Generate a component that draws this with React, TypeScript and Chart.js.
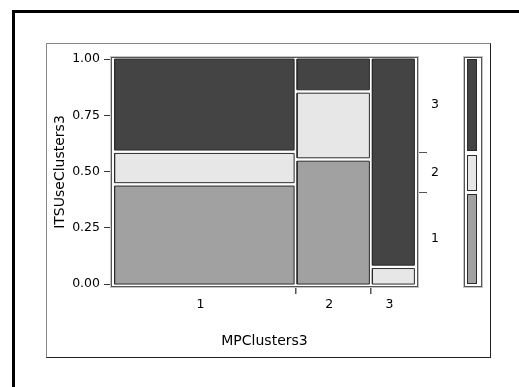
import React, { useEffect, useRef } from 'react';
import { Chart, registerables } from 'chart.js';

Chart.register(...registerables);

// ---- data ----
const xCategories = ['1', '2', '3']; // MPClusters3
const yCategories = ['1', '2', '3']; // ITSUseClusters3
const columnShares = [0.611, 0.246, 0.143];
const level1Shares = [0.449, 0.563, 0.0];
const level2Shares = [0.134, 0.296, 0.07];
const level3Shares = [0.417, 0.141, 0.93];
const yTickValues = [0, 0.25, 0.5, 0.75, 1];

// ---- styles ----
const levelColors = ['#a1a1a1', '#e7e7e7', '#444444'];
const rectBorder = '#2b2b2b';
const GAP_X = 0.01;
const GAP_Y = 0.015;
const FONT = "'DejaVu Sans', sans-serif";

type Seg = [number, number] | null;

function stackSegments(shares: number[], gap: number): Seg[] {
  const nz = shares.filter((s) => s > 0).length;
  const usable = 1 - gap * (nz - 1);
  let pos = 0;
  return shares.map((s) => {
    if (s <= 0) return null;
    const a = pos;
    const b = pos + s * usable;
    pos = b + gap;
    return [a, b] as [number, number];
  });
}

function centersOf(segs: Seg[]) {
  return segs.map((s) => (s ? (s[0] + s[1]) / 2 : null));
}

function boundariesOf(segs: Seg[]) {
  const valid = segs.filter((s) => s) as [number, number][];
  const out: number[] = [];
  for (let i = 0; i < valid.length - 1; i++) out.push((valid[i][1] + valid[i + 1][0]) / 2);
  return out;
}

const near = (a: number, b: number) => Math.abs(a - b) < 1e-6;

export default function App() {
  const canvasRef = useRef<HTMLCanvasElement | null>(null);

  useEffect(() => {
    if (!canvasRef.current) return;
    const levels = [level1Shares, level2Shares, level3Shares];
    const colSegs = stackSegments(columnShares, GAP_X);
    const colCenters = centersOf(colSegs) as number[];
    const colBounds = boundariesOf(colSegs);

    const marginal = levels.map((lv) => lv.reduce((acc, v, j) => acc + v * columnShares[j], 0));
    const margSegs = stackSegments(marginal, GAP_Y);
    const margCenters = centersOf(margSegs) as number[];
    const margBounds = boundariesOf(margSegs);

    const datasets: any[] = [];
    columnShares.forEach((_, j) => {
      const xs = colSegs[j]!;
      const segs = stackSegments(levels.map((lv) => lv[j]), GAP_Y);
      segs.forEach((ys, k) => {
        if (!ys) return;
        datasets.push({
          label: `MP ${xCategories[j]} / ITS ${yCategories[k]}`,
          data: [
            { x: xs[0], y: ys[0] },
            { x: xs[1], y: ys[0] },
            { x: xs[1], y: ys[1] },
            { x: xs[0], y: ys[1] },
            { x: xs[0], y: ys[0] },
          ],
          showLine: true,
          fill: 'shape',
          backgroundColor: levelColors[k],
          borderColor: rectBorder,
          borderWidth: 1,
          pointRadius: 0,
          tension: 0,
        });
      });
    });

    const framePlugin = {
      id: 'frame',
      beforeDatasetsDraw(chart: any) {
        const { ctx, chartArea: a } = chart;
        ctx.save();
        ctx.lineWidth = 1;
        ctx.strokeStyle = '#c4c4c4';
        ctx.strokeRect(a.left - 0.5, a.top - 0.5, a.right - a.left + 1, a.bottom - a.top + 1);
        ctx.strokeStyle = '#555555';
        ctx.strokeRect(a.left + 0.5, a.top + 0.5, a.right - a.left - 1, a.bottom - a.top - 1);
        ctx.restore();
      },
      afterDraw(chart: any) {
        // marginal legend bar on the right
        const { ctx, chartArea: a } = chart;
        const ys = chart.scales.y;
        const x0 = a.right + 46;
        ctx.save();
        ctx.lineWidth = 1;
        ctx.strokeStyle = '#c4c4c4';
        ctx.strokeRect(x0 - 0.5, a.top - 0.5, 19, a.bottom - a.top + 1);
        ctx.strokeStyle = '#555555';
        ctx.strokeRect(x0 + 0.5, a.top + 0.5, 17, a.bottom - a.top - 1);
        margSegs.forEach((s, k) => {
          if (!s) return;
          const yTop = Math.round(ys.getPixelForValue(s[1]));
          const yBot = Math.round(ys.getPixelForValue(s[0]));
          ctx.fillStyle = levelColors[k];
          ctx.fillRect(x0 + 3, yTop, 10, yBot - yTop);
          ctx.strokeStyle = rectBorder;
          ctx.strokeRect(x0 + 3.5, yTop + 0.5, 9, yBot - yTop - 1);
        });
        ctx.restore();
      },
    };

    const tickFont = { family: FONT, size: 12.5 };
    const titleFont = { family: FONT, size: 14 };

    const chart = new Chart(canvasRef.current, {
      type: 'scatter',
      data: { datasets },
      plugins: [framePlugin],
      options: {
        responsive: false,
        animation: false,
        events: [],
        layout: { padding: { left: 47, right: 30, top: 57, bottom: 31 } },
        plugins: { legend: { display: false }, tooltip: { enabled: false } },
        scales: {
          x: {
            type: 'linear',
            position: 'bottom',
            min: -0.012,
            max: 1.012,
            afterBuildTicks: (s: any) => {
              s.ticks = [...colCenters, ...colBounds].sort((a, b) => a - b).map((v) => ({ value: v }));
            },
            afterFit: (s: any) => {
              s.height = 69;
            },
            ticks: {
              autoSkip: false,
              maxRotation: 0,
              padding: 3,
              labelOffset: -4,
              color: '#000',
              font: tickFont,
              callback: (v: any) => {
                const i = colCenters.findIndex((c) => near(c, Number(v)));
                return i >= 0 ? xCategories[i] : '';
              },
            },
            grid: {
              drawOnChartArea: false,
              drawTicks: true,
              tickLength: 7,
              lineWidth: 1.5,
              color: (ctx: any) =>
                ctx.tick && colBounds.some((b) => near(b, ctx.tick.value)) ? '#555' : 'rgba(0,0,0,0)',
            },
            border: { display: false },
            title: {
              display: true,
              text: 'MPClusters3',
              color: '#000',
              font: titleFont,
              padding: { top: 0, bottom: 6 },
            },
          },
          y: {
            type: 'linear',
            position: 'left',
            min: -0.013,
            max: 1.009,
            afterBuildTicks: (s: any) => {
              s.ticks = yTickValues.map((v) => ({ value: v }));
            },
            afterFit: (s: any) => {
              s.width = 64;
            },
            ticks: {
              autoSkip: false,
              padding: 4,
              color: '#000',
              font: tickFont,
              callback: (v: any) => Number(v).toFixed(2),
            },
            grid: { drawOnChartArea: false, drawTicks: true, tickLength: 7, color: '#333' },
            border: { display: true, color: '#222', width: 1 },
            title: {
              display: true,
              text: 'ITSUseClusters3',
              color: '#000',
              font: titleFont,
              padding: { top: 5, bottom: 0 },
            },
          },
          y2: {
            type: 'linear',
            position: 'right',
            min: -0.013,
            max: 1.009,
            afterBuildTicks: (s: any) => {
              s.ticks = [...margCenters, ...margBounds].sort((a, b) => a - b).map((v) => ({ value: v }));
            },
            afterFit: (s: any) => {
              s.width = 71;
            },
            ticks: {
              autoSkip: false,
              padding: 4,
              color: '#000',
              font: tickFont,
              callback: (v: any) => {
                const i = margCenters.findIndex((c) => near(c, Number(v)));
                return i >= 0 ? yCategories[i] : '';
              },
            },
            grid: {
              drawOnChartArea: false,
              drawTicks: true,
              tickLength: 9,
              lineWidth: 1,
              color: (ctx: any) =>
                ctx.tick && margBounds.some((b) => near(b, ctx.tick.value)) ? '#555' : 'rgba(0,0,0,0)',
            },
            border: { display: false },
          },
        },
      } as any,
    });
    return () => chart.destroy();
  }, []);

  return (
    <div
      style={{
        position: 'fixed',
        left: 0,
        top: 0,
        width: 519,
        height: 387,
        overflow: 'hidden',
        background: '#fff',
      }}
    >
      <div
        style={{
          position: 'absolute',
          left: 12,
          top: 10,
          width: 700,
          height: 600,
          borderTop: '3px solid #000',
          borderLeft: '3px solid #000',
        }}
      />
      <div
        style={{
          position: 'absolute',
          left: 46,
          top: 43,
          width: 445,
          height: 315,
          boxSizing: 'border-box',
          borderStyle: 'solid',
          borderWidth: 1,
          borderColor: '#888 #222 #222 #888',
        }}
      />
      <canvas
        ref={canvasRef}
        width={519}
        height={387}
        style={{ position: 'absolute', left: 0, top: 0, width: 519, height: 387 }}
      />
    </div>
  );
}
